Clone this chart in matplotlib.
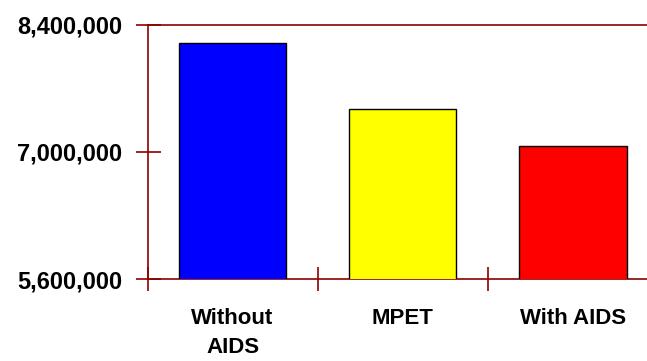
import matplotlib.pyplot as plt
import numpy as np
from matplotlib.ticker import FuncFormatter

# Population scenarios
categories = ["Without\nAIDS", "MPET", "With AIDS"]
population = [8193000, 7467000, 7063000]
bar_colors = ["#0000FF", "#FFFF00", "#FF0000"]
yticks = [5600000, 7000000, 8400000]

axis_red = "#8B0000"
plt.rcParams['font.family'] = ['Liberation Sans', 'DejaVu Sans']

fig = plt.figure(figsize=(6.47, 3.61), dpi=100)
ax = fig.add_axes([0.228, 0.2263, 0.789, 0.7058])

x = np.arange(len(categories))
ax.bar(x, population, width=0.63, color=bar_colors, edgecolor="black", linewidth=1.0, zorder=3)

ax.set_xlim(-0.5, 2.5)
ax.set_ylim(yticks[0], yticks[-1])

# category boundaries get the tick marks, centres get the labels
ax.set_xticks([-0.5, 0.5, 1.5, 2.5])
ax.set_xticklabels([])
ax.set_xticks(x, minor=True)
ax.set_xticklabels(categories, minor=True, fontsize=16, fontweight="bold",
                   linespacing=1.5)
ax.tick_params(axis="x", which="major", direction="inout", length=17,
               width=1.2, color=axis_red)
ax.tick_params(axis="x", which="minor", length=0, pad=21)

ax.set_yticks(yticks)
ax.yaxis.set_major_formatter(FuncFormatter(lambda v, p: f"{int(v):,}"))
ax.tick_params(axis="y", direction="inout", length=18, width=1.2,
               color=axis_red, labelsize=17, pad=9)
for lbl in ax.get_yticklabels():
    lbl.set_fontweight("bold")

for side in ["left", "bottom", "top"]:
    ax.spines[side].set_color(axis_red)
    ax.spines[side].set_linewidth(1.2)
ax.spines["right"].set_visible(False)

fig.savefig("out.png", dpi=100)
